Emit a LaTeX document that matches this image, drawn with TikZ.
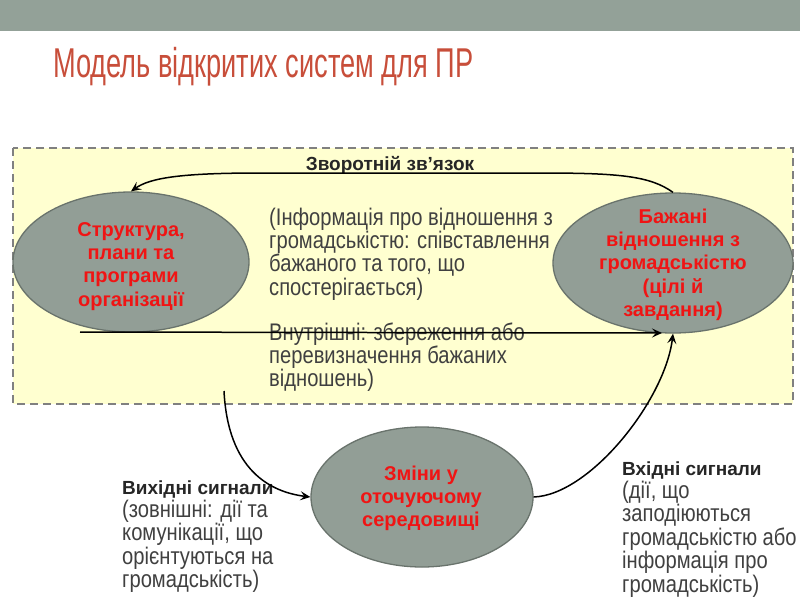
\documentclass[tikz,border=0pt]{standalone}
\usepackage{fontspec}
\setmainfont{Liberation Sans}
\newfontfamily\narrowfont{Liberation Sans}[FakeStretch=0.84]
\usetikzlibrary{shapes.geometric,arrows.meta}
\definecolor{barcol}{RGB}{147,161,152}
\definecolor{titlered}{RGB}{200,78,58}
\definecolor{ellfill}{RGB}{146,158,150}
\definecolor{elldraw}{RGB}{105,115,108}
\definecolor{boxfill}{RGB}{255,255,208}
\definecolor{dashgray}{RGB}{128,128,128}
\definecolor{bodygray}{RGB}{64,64,64}
\definecolor{labelblack}{RGB}{38,38,38}
\definecolor{elltext}{RGB}{240,20,20}
\newcommand\boldlabel[1]{{\normalfont\fontsize{19}{23.4}\selectfont\bfseries\color{labelblack}#1}}
\tikzset{
  ellnode/.style={ellipse, draw=elldraw, line width=1.3pt, fill=ellfill, inner sep=0pt},
  elltxt/.style={text=elltext, font=\fontsize{20}{23.4}\selectfont\bfseries, align=flush center, text width=180pt, inner sep=0pt, anchor=base},
  bodytxt/.style={text=bodygray, font=\narrowfont\fontsize{24}{23.4}\selectfont, align=flush left, text width=300pt, inner sep=0pt, anchor=base west},
  boldlab/.style={text=labelblack, font=\fontsize{19}{23.4}\selectfont\bfseries},
  arr/.style={draw=black, line width=1.5pt, -{Stealth[length=10pt,width=9pt,inset=4pt]}}
}
\begin{document}
\begin{tikzpicture}[x=1pt,y=-1pt]
\useasboundingbox (0,0) rectangle (800,600);
\fill[white] (0,0) rectangle (800,600);
\fill[barcol] (0,0) rectangle (800,31);
\node[anchor=base west, inner sep=0pt, text=titlered] (title) at (53,77)
  {\resizebox{420pt}{30.2pt}{Модель відкритих систем для ПР}};
\draw[dashgray, line width=2pt, dash pattern=on 8pt off 5pt, fill=boxfill] (13,148) rectangle (793,404);
% ellipses
\node[ellnode, minimum width=236pt, minimum height=140pt] (L) at (131,262) {};
\node[ellnode, minimum width=240pt, minimum height=140pt] (R) at (673,263) {};
\node[ellnode, minimum width=222pt, minimum height=140pt] (B) at (422,497) {};
\node[elltxt] (Lt) at (131,236) {Структура,\\плани та\\програми\\організації};
\node[elltxt] (Rt) at (673,223) {Бажані\\відношення з\\громадськістю\\(цілі й\\завдання)};
\node[elltxt] (Bt) at (421,480) {Зміни у\\оточуючому\\середовищі};
% texts
\node[boldlab, anchor=base, inner sep=0pt] (fb) at (390,170) {Зворотній зв’язок};
\node[bodytxt] (info) at (269,225) {(Інформація про відношення з\\громадськістю: співставлення\\бажаного та того, що\\спостерігається)};
\node[bodytxt] (intern) at (269,340) {Внутрішні: збереження або\\перевизначення бажаних\\відношень)};
\node[bodytxt] (out) at (122,494) {\boldlabel{Вихідні сигнали}\\(зовнішні: дії та\\комунікації, що\\орієнтуються на\\громадськість)};
\node[bodytxt] (in) at (622,475) {\boldlabel{Вхідні сигнали}\\(дії, що\\заподіюються\\громадськістю або\\інформація про\\громадськість)};
% connectors
\draw[arr] (R.north) .. controls (650,176) and (620,173) .. (540,173)
  -- (260,173) .. controls (180,173) and (150,178) .. (L.north);
\coordinate (hs) at (80,332);
\coordinate (he) at (662,333);
\draw[arr] (hs) -- (he);
\coordinate (cs) at (224,391);
\draw[arr] (cs) .. controls (228,470) and (270,492) .. (B.west);
\draw[arr] (B.east) .. controls (590,495) and (665,400) .. (R.south);
\end{tikzpicture}
\end{document}
